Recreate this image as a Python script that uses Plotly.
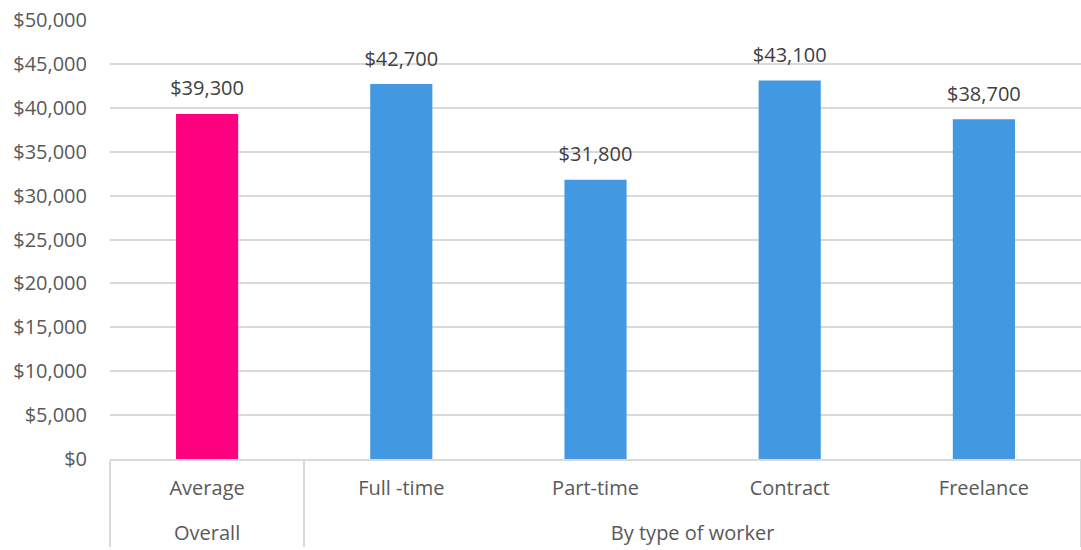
import plotly.graph_objects as go

groups = ["Overall", "By type of worker", "By type of worker", "By type of worker", "By type of worker"]
categories = ["Average", "Full -time", "Part-time", "Contract", "Freelance"]
values = [39300, 42700, 31800, 43100, 38700]
colors = ["#FF0080", "#4299E1", "#4299E1", "#4299E1", "#4299E1"]

cat_labels = [c + "<br> " for c in categories]

fig = go.Figure()
fig.add_trace(go.Bar(
    x=[groups, cat_labels],
    y=values,
    marker=dict(color=colors, line=dict(width=0)),
    hoverinfo="y",
))
fig.add_trace(go.Scatter(
    x=[groups, cat_labels],
    y=values,
    mode="markers+text",
    marker=dict(size=20, color="rgba(0,0,0,0)"),
    text=[f"${v:,}" for v in values],
    textposition="top center",
    textfont=dict(size=20, color="#404040"),
    cliponaxis=False,
    hoverinfo="skip",
))

fig.update_layout(
    width=1081, height=550,
    margin=dict(l=110, r=0, t=20, b=91),
    paper_bgcolor="white", plot_bgcolor="white",
    font=dict(family="Open Sans", size=20, color="#595959"),
    bargap=0.68,
    showlegend=False,
    yaxis=dict(
        range=[0, 50000], dtick=5000, tickformat="$,",
        gridcolor="#d9d9d9", gridwidth=1.5, zeroline=False,
        showline=False, ticks="", ticklabelstandoff=22, automargin=False,
    ),
    xaxis=dict(
        type="multicategory", showdividers=True, dividercolor="#d9d9d9", dividerwidth=1.5,
        showline=True, linecolor="#d9d9d9", linewidth=1.5, ticks="",
        automargin=False, ticklabelstandoff=10,
    ),
)

fig.write_html("out.html", config={"displayModeBar": False},
               post_script="document.body.style.margin='0';")
